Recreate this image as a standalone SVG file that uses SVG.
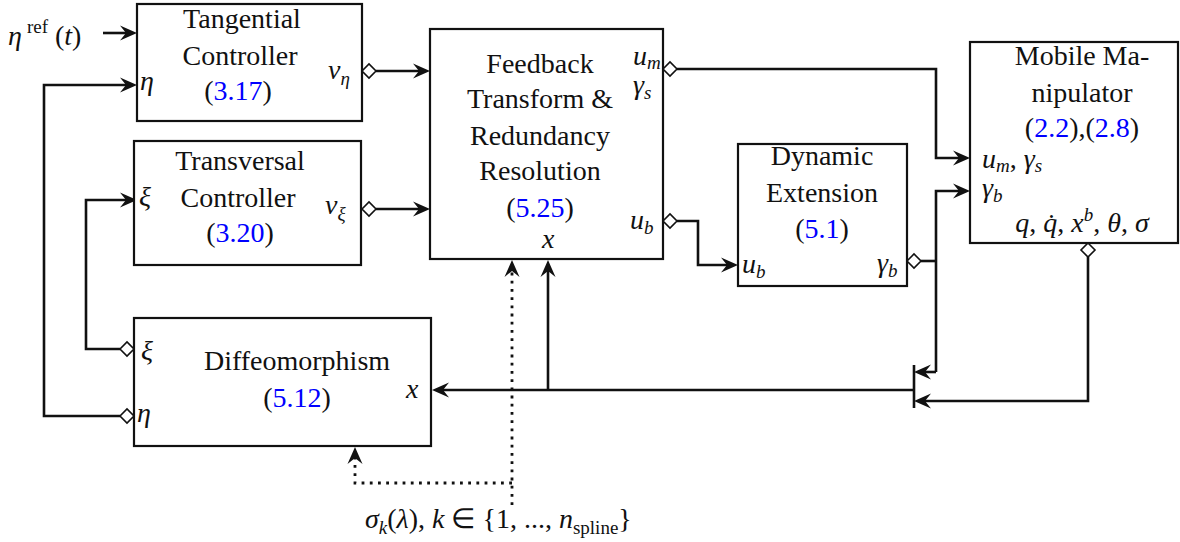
<svg xmlns="http://www.w3.org/2000/svg" width="1180" height="542" viewBox="0 0 1180 542">
<defs>
<marker id="ah" viewBox="-14 -9 21 18" refX="0" refY="0" markerWidth="21" markerHeight="18" markerUnits="userSpaceOnUse" orient="auto">
<path d="M5,0 L-12,-7.5 L-6,0 L-12,7.5 Z" fill="#111"/>
</marker>
</defs>

<g id="connectors" fill="none" stroke="#111" stroke-width="2.6">
<path d="M103,33 H132" marker-end="url(#ah)"/>
<path d="M120,416 H44 V85 H132" marker-end="url(#ah)"/>
<path d="M120,349 H86 V200 H132" marker-end="url(#ah)"/>
<path d="M376,71 H425" marker-end="url(#ah)"/>
<path d="M376,209 H425" marker-end="url(#ah)"/>
<path d="M677,69 H936 V158 H965" marker-end="url(#ah)"/>
<path d="M677,221 H698 V265 H733" marker-end="url(#ah)"/>
<path d="M921,261 H936"/>
<path d="M936,372 V191 H965" marker-end="url(#ah)"/>
<path d="M936,372 H919" marker-end="url(#ah)"/>
<path d="M1088,257 V401 H919" marker-end="url(#ah)"/>
<path d="M914,365 V408"/>
<path d="M914,390 H437" marker-end="url(#ah)"/>
<path d="M548,390 V265" marker-end="url(#ah)"/>
<g stroke-width="2.8" stroke-dasharray="2.8 5.4">
<path d="M512,505 V265" marker-end="url(#ah)"/>
<path d="M512,483 H355 V452" marker-end="url(#ah)"/>
</g>
<g fill="#fff" stroke-width="1.6">
<polygon points="362,71 369,64 376,71 369,78"/>
<polygon points="362,209 369,202 376,209 369,216"/>
<polygon points="663,69 670,62 677,69 670,76"/>
<polygon points="663,221 670,214 677,221 670,228"/>
<polygon points="907,261 914,254 921,261 914,268"/>
<polygon points="1088,243 1095,250 1088,257 1081,250"/>
<polygon points="120,349 127,342 134,349 127,356"/>
<polygon points="120,416 127,409 134,416 127,423"/>
</g>
</g>

<g id="ref-input">
<text font-family="Liberation Serif" font-size="28" font-style="italic" fill="#111" x="8" y="45">η</text>
<text font-family="Liberation Serif" font-size="19" fill="#111" x="27" y="33">ref</text>
<text font-family="Liberation Serif" font-size="28" fill="#111" x="55" y="45">(<tspan font-style="italic">t</tspan>)</text>
</g>

<g id="tangential">
<rect fill="#fff" stroke="#111" stroke-width="2.2" x="137" y="4" width="225" height="117"/>
<text font-family="Liberation Serif" font-size="28" fill="#111" text-anchor="middle" x="242" y="28">Tangential</text>
<text font-family="Liberation Serif" font-size="28" fill="#111" text-anchor="middle" x="240" y="65">Controller</text>
<text font-family="Liberation Serif" font-size="28" fill="#111" text-anchor="middle" x="238" y="100">(<tspan fill="#0000ff">3.17</tspan>)</text>
<text font-family="Liberation Serif" font-size="28" font-style="italic" fill="#111" x="140" y="90">η</text>
<text font-family="Liberation Serif" font-size="28" font-style="italic" fill="#111" x="328" y="79">v<tspan font-size="19" dy="6">η</tspan></text>
</g>

<g id="transversal">
<rect fill="#fff" stroke="#111" stroke-width="2.2" x="134" y="141" width="227" height="124"/>
<text font-family="Liberation Serif" font-size="28" fill="#111" text-anchor="middle" x="240" y="170">Transversal</text>
<text font-family="Liberation Serif" font-size="28" fill="#111" text-anchor="middle" x="238" y="207">Controller</text>
<text font-family="Liberation Serif" font-size="28" fill="#111" text-anchor="middle" x="240" y="242">(<tspan fill="#0000ff">3.20</tspan>)</text>
<text font-family="Liberation Serif" font-size="28" font-style="italic" fill="#111" x="139" y="206">ξ</text>
<text font-family="Liberation Serif" font-size="28" font-style="italic" fill="#111" x="325" y="214">v<tspan font-size="19" dy="6">ξ</tspan></text>
</g>

<g id="feedback">
<rect fill="#fff" stroke="#111" stroke-width="2.2" x="430" y="29" width="233" height="230"/>
<text font-family="Liberation Serif" font-size="28" fill="#111" text-anchor="middle" x="540" y="73">Feedback</text>
<text font-family="Liberation Serif" font-size="28" fill="#111" text-anchor="middle" x="540" y="108">Transform &amp;</text>
<text font-family="Liberation Serif" font-size="28" fill="#111" text-anchor="middle" x="540" y="145">Redundancy</text>
<text font-family="Liberation Serif" font-size="28" fill="#111" text-anchor="middle" x="540" y="180">Resolution</text>
<text font-family="Liberation Serif" font-size="28" fill="#111" text-anchor="middle" x="540" y="217">(<tspan fill="#0000ff">5.25</tspan>)</text>
<text font-family="Liberation Serif" font-size="28" font-style="italic" fill="#111" x="633" y="65">u<tspan font-size="19" dy="4">m</tspan></text>
<text font-family="Liberation Serif" font-size="28" font-style="italic" fill="#111" x="633" y="94">γ<tspan font-size="19" dy="5">s</tspan></text>
<text font-family="Liberation Serif" font-size="28" font-style="italic" fill="#111" x="630" y="229">u<tspan font-size="19" dy="5">b</tspan></text>
<text font-family="Liberation Serif" font-size="28" font-style="italic" fill="#111" x="542" y="248">x</text>
</g>

<g id="dynamic">
<rect fill="#fff" stroke="#111" stroke-width="2.2" x="738" y="144" width="169" height="142"/>
<text font-family="Liberation Serif" font-size="28" fill="#111" text-anchor="middle" x="822" y="165">Dynamic</text>
<text font-family="Liberation Serif" font-size="28" fill="#111" text-anchor="middle" x="822" y="202">Extension</text>
<text font-family="Liberation Serif" font-size="28" fill="#111" text-anchor="middle" x="822" y="238">(<tspan fill="#0000ff">5.1</tspan>)</text>
<text font-family="Liberation Serif" font-size="28" font-style="italic" fill="#111" x="742" y="273">u<tspan font-size="19" dy="5">b</tspan></text>
<text font-family="Liberation Serif" font-size="28" font-style="italic" fill="#111" x="877" y="272">γ<tspan font-size="19" dy="5">b</tspan></text>
</g>

<g id="mobile">
<rect fill="#fff" stroke="#111" stroke-width="2.2" x="970" y="42" width="208" height="201"/>
<text font-family="Liberation Serif" font-size="28" fill="#111" text-anchor="middle" x="1082" y="65">Mobile Ma-</text>
<text font-family="Liberation Serif" font-size="28" fill="#111" text-anchor="middle" x="1082" y="102">nipulator</text>
<text font-family="Liberation Serif" font-size="28" fill="#111" text-anchor="middle" x="1082" y="137">(<tspan fill="#0000ff">2.2</tspan>),(<tspan fill="#0000ff">2.8</tspan>)</text>
<text font-family="Liberation Serif" font-size="28" font-style="italic" fill="#111" x="982" y="168">u<tspan font-size="19" dy="4">m</tspan><tspan dy="-4" font-style="normal">, </tspan>γ<tspan font-size="19" dy="4">s</tspan></text>
<text font-family="Liberation Serif" font-size="28" font-style="italic" fill="#111" x="982" y="197">γ<tspan font-size="19" dy="5">b</tspan></text>
<text font-family="Liberation Serif" font-size="28" font-style="italic" fill="#111" x="1082" y="232" text-anchor="middle">q<tspan font-style="normal">, </tspan>q̇<tspan font-style="normal">, </tspan>x<tspan font-size="19" dy="-11">b</tspan><tspan font-style="normal" dy="11">, </tspan>θ<tspan font-style="normal">, </tspan>σ</text>
</g>

<g id="diffeomorphism">
<rect fill="#fff" stroke="#111" stroke-width="2.2" x="134" y="318" width="297" height="128"/>
<text font-family="Liberation Serif" font-size="28" fill="#111" text-anchor="middle" x="297" y="370">Diffeomorphism</text>
<text font-family="Liberation Serif" font-size="28" fill="#111" text-anchor="middle" x="297" y="407">(<tspan fill="#0000ff">5.12</tspan>)</text>
<text font-family="Liberation Serif" font-size="28" font-style="italic" fill="#111" x="141" y="360">ξ</text>
<text font-family="Liberation Serif" font-size="28" font-style="italic" fill="#111" x="137" y="422">η</text>
<text font-family="Liberation Serif" font-size="28" font-style="italic" fill="#111" x="406" y="398">x</text>
</g>

<g id="spline-label">
<text font-family="Liberation Serif" font-size="28" font-style="italic" fill="#111" x="365" y="528">σ<tspan font-size="19" dy="6">k</tspan><tspan font-style="normal" dy="-6">(</tspan>λ<tspan font-style="normal">),  </tspan>k<tspan font-style="normal"> ∈ {1, ..., </tspan>n<tspan font-size="19" font-style="normal" dy="6">spline</tspan><tspan font-style="normal" dy="-6">}</tspan></text>
</g>
</svg>
